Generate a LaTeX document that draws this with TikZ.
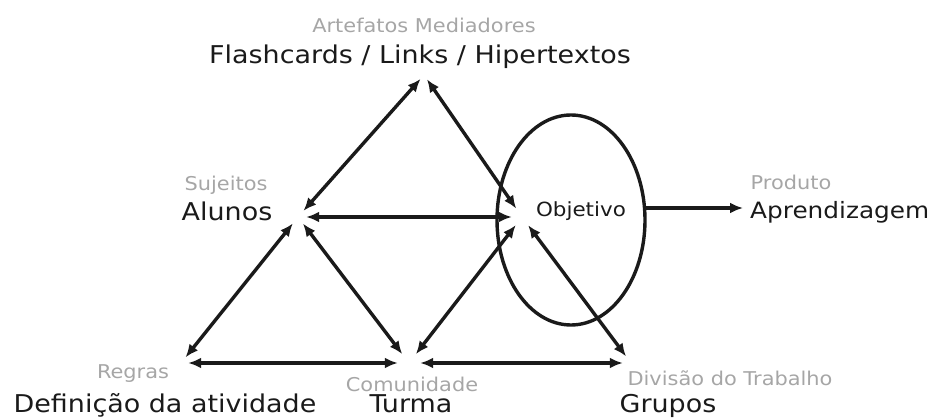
\documentclass[tikz,border=0pt]{standalone}
\usepackage{fontspec}
\setmainfont{DejaVu Sans}[FakeStretch=1.1]
\usetikzlibrary{arrows.meta,shapes.geometric}
\definecolor{ink}{HTML}{1A1A1A}
\definecolor{soft}{HTML}{A6A6A6}
\begin{document}
\begin{tikzpicture}[x=1pt,y=-1pt,
  lbl/.style={font=\fontsize{24.5}{29}\selectfont, text=ink, inner sep=0pt, anchor=base},
  sublbl/.style={font=\fontsize{19}{23}\selectfont, text=soft, inner sep=0pt, anchor=base},
  objlbl/.style={font=\fontsize{19.5}{23}\selectfont, text=ink, inner sep=0pt, anchor=base},
  meet/.style={circle, inner sep=0pt, minimum size=#1},
  link/.style={draw=ink, line width=3.4pt, {Latex[length=13pt,width=11pt]}-{Latex[length=13pt,width=11pt]}},
  outlink/.style={draw=ink, line width=3.4pt, -{Latex[length=13pt,width=11pt]}}
]
\useasboundingbox (0,0) rectangle (950,419);

% labels
\node[sublbl] (artl) at (424,33) {Artefatos Mediadores};
\node[lbl] (flash) at (420,64) {Flashcards / Links / Hipertextos};
\node[sublbl] (sujl) at (226,191) {Sujeitos};
\node[lbl] (alun) at (227,221) {Alunos};
\node[sublbl] (prodl) at (791,190) {Produto};
\node[lbl, font=\fontsize{22.5}{27}\selectfont, anchor=base west] (apr) at (750,219) {Aprendizagem};
\node[objlbl] (objt) at (581,217) {Objetivo};
\node[sublbl] (regl) at (133,378) {Regras};
\node[lbl] (defi) at (165,412) {Definição da atividade};
\node[sublbl] (coml) at (412,391) {Comunidade};
\node[lbl] (turma) at (411,412) {Turma};
\node[sublbl] (divl) at (730,385) {Divisão do Trabalho};
\node[lbl] (grup) at (668,412) {Grupos};

% ellipse around the object
\node[draw=ink, line width=3.4pt, ellipse, minimum width=148pt, minimum height=210pt, inner sep=0pt] (ell) at (571,220) {};

% meeting points
\node[meet=10pt] (T) at (424,75) {};
\node[meet=16pt] (A) at (298,217) {};
\node[meet=20pt] (O) at (522,217) {};
\node[meet=14pt] (R) at (181,363) {};
\node[meet=22pt] (M) at (409,363) {};
\node[meet=16pt] (G) at (631,363) {};

% connectors
\draw[link] (T) -- (A);
\draw[link] (T) -- (O);
\draw[link] (A) -- (O);
\draw[link] (A) -- (R);
\draw[link] (A) -- (M);
\draw[link] (R) -- (M);
\draw[link] (M) -- (O);
\draw[link] (M) -- (G);
\draw[link] (O) -- (G);

\coordinate (outs) at (645,208);
\coordinate (oute) at (743,208);
\draw[outlink] (outs) -- (oute);
\end{tikzpicture}
\end{document}
